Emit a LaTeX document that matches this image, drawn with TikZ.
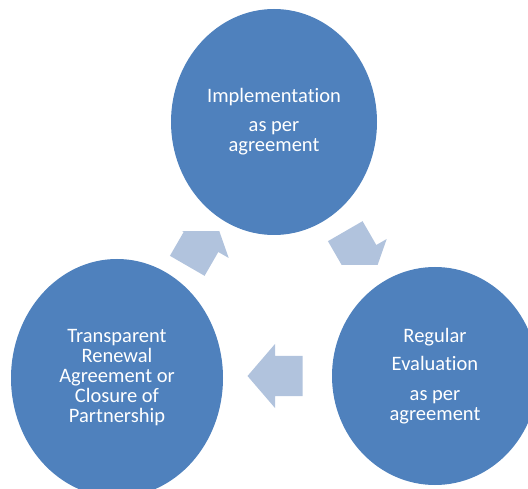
\documentclass[tikz,border=0pt]{standalone}
\usepackage{fontspec}
\setmainfont{Carlito}[Ligatures=NoCommon]
\usetikzlibrary{shapes.geometric,positioning}
\definecolor{stageblue}{HTML}{4F81BD}
\definecolor{arrowblue}{HTML}{B1C3DD}

\begin{document}
\begin{tikzpicture}[x=1pt,y=1pt,on grid,
    stage/.style={ellipse,fill=stageblue,text=white,inner sep=0pt,align=center,
      font=\fontsize{20.5}{20}\selectfont},
    turn/.pic={\fill[arrowblue] (-27.5,-20) -- (0,-20) -- (0,-32) -- (27.5,0)
      -- (0,32) -- (0,20) -- (-27.5,20) -- cycle;}]
  \useasboundingbox (0,0) rectangle (528,488);
  % arrows between the stages
  \begin{scope}
    \clip (140,180) rectangle (260,256);
    \pic[rotate=60] at (201,246) {turn};
  \end{scope}
  \begin{scope}
    \clip (300,223) rectangle (420,300);
    \pic[rotate=-60] at (359,233) {turn};
  \end{scope}
  \pic[rotate=180] at (275,112) {turn};
  % the three stages
  \node[stage, minimum width=206pt, minimum height=226pt] (impl) at (274,366)
    {Implementation\\[9pt]as per\\agreement};
  \node[stage, minimum width=206pt, minimum height=218pt] (eval)
    [below right=254pt and 161pt of impl]
    {Regular\\[8pt]Evaluation\\[10pt]as per\\agreement};
  \node[stage, minimum width=212pt, minimum height=238pt] (renew)
    [below left=256pt and 157pt of impl]
    {Transparent\\Renewal\\Agreement or\\Closure of\\Partnership};
\end{tikzpicture}
\end{document}
